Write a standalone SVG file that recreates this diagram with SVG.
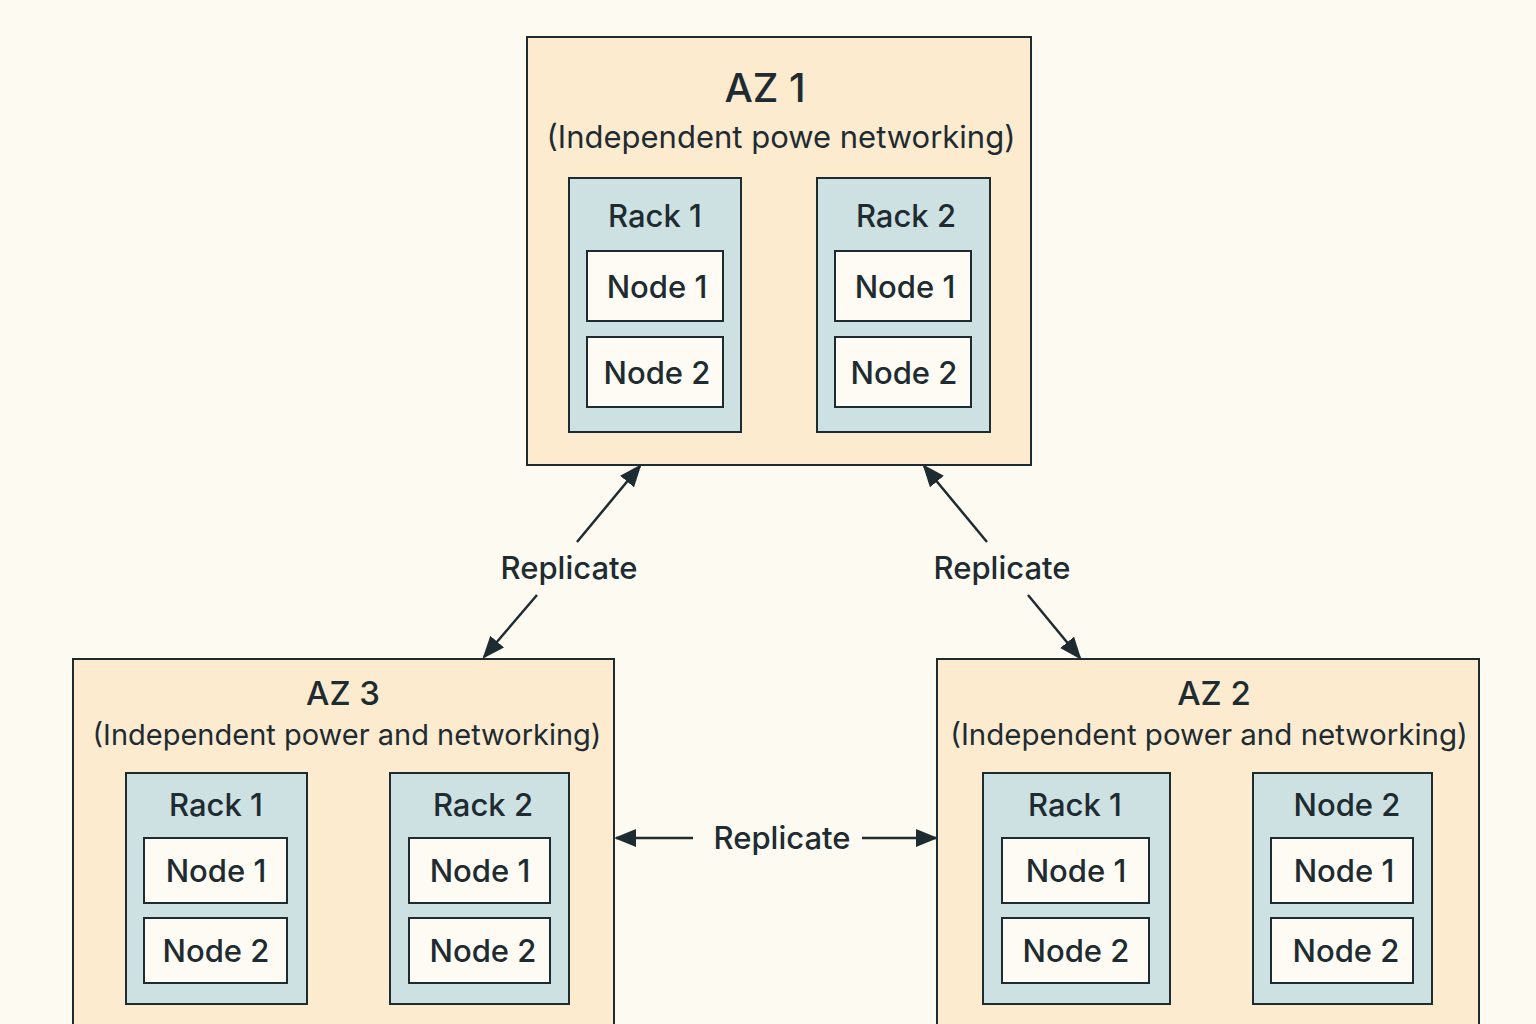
<svg xmlns="http://www.w3.org/2000/svg" width="1536" height="1024" viewBox="0 0 1536 1024">
<defs>
<marker id="ah" viewBox="0 0 10 8" refX="9" refY="4" markerWidth="9" markerHeight="7.2" markerUnits="strokeWidth" orient="auto-start-reverse">
<path d="M0,0 L10,4 L0,8 z" fill="#1e2b31"/>
</marker>
<style>
.az{fill:#fdebd0;stroke:#1e2b31;stroke-width:2}
.rack{fill:#cde0e2;stroke:#1e2b31;stroke-width:2}
.node{fill:#fdfbf3;stroke:#1e2b31;stroke-width:2}
text{font-family:Inter,"Noto Sans","DejaVu Sans",sans-serif;fill:#1e2b31;text-anchor:middle}
.t1{font-size:40px;font-weight:500}
.t2{font-size:31px}
.t3{font-size:31px;font-weight:500}
.lbl{font-size:31px;font-weight:500}
.con{stroke:#1e2b31;stroke-width:2.5;fill:none}
</style>
</defs>
<rect width="1536" height="1024" fill="#fdfaf1"/>
<g id="az1">
<rect class="az" x="527" y="37" width="504" height="428"/>
<text class="t1" x="765" y="102">AZ 1</text>
<text class="t2" x="781" y="148">(Independent powe networking)</text>
<g id="az1-rack1">
<rect class="rack" x="569" y="178" width="172" height="254"/>
<text class="t3" x="655" y="227">Rack 1</text>
<rect class="node" x="587" y="251" width="136" height="70"/>
<text class="lbl" x="657" y="298">Node 1</text>
<rect class="node" x="587" y="337" width="136" height="70"/>
<text class="lbl" x="657" y="384">Node 2</text>
</g>
<g id="az1-rack2">
<rect class="rack" x="817" y="178" width="173" height="254"/>
<text class="t3" x="906" y="227">Rack 2</text>
<rect class="node" x="835" y="251" width="136" height="70"/>
<text class="lbl" x="905" y="298">Node 1</text>
<rect class="node" x="835" y="337" width="136" height="70"/>
<text class="lbl" x="904" y="384">Node 2</text>
</g>
</g>
<g id="az3">
<rect class="az" x="73" y="659" width="541" height="380"/>
<text class="t1" x="343" y="705" style="font-size:33px">AZ 3</text>
<text class="t2" x="347" y="745" style="font-size:29px">(Independent power and networking)</text>
<g id="az3-rack1">
<rect class="rack" x="126" y="773" width="181" height="231"/>
<text class="t3" x="216" y="816">Rack 1</text>
<rect class="node" x="144" y="838" width="143" height="65"/>
<text class="lbl" x="216" y="882">Node 1</text>
<rect class="node" x="144" y="918" width="143" height="65"/>
<text class="lbl" x="216" y="962">Node 2</text>
</g>
<g id="az3-rack2">
<rect class="rack" x="390" y="773" width="179" height="231"/>
<text class="t3" x="483" y="816">Rack 2</text>
<rect class="node" x="409" y="838" width="141" height="65"/>
<text class="lbl" x="480" y="882">Node 1</text>
<rect class="node" x="409" y="918" width="141" height="65"/>
<text class="lbl" x="483" y="962">Node 2</text>
</g>
</g>
<g id="az2">
<rect class="az" x="937" y="659" width="542" height="380"/>
<text class="t1" x="1214" y="705" style="font-size:33px">AZ 2</text>
<text class="t2" x="1209" y="745" style="font-size:29.5px">(Independent power and networking)</text>
<g id="az2-rack1">
<rect class="rack" x="983" y="773" width="187" height="231"/>
<text class="t3" x="1075" y="816">Rack 1</text>
<rect class="node" x="1002" y="838" width="147" height="65"/>
<text class="lbl" x="1076" y="882">Node 1</text>
<rect class="node" x="1002" y="918" width="147" height="65"/>
<text class="lbl" x="1076" y="962">Node 2</text>
</g>
<g id="az2-rack2">
<rect class="rack" x="1253" y="773" width="179" height="231"/>
<text class="t3" x="1347" y="816">Node 2</text>
<rect class="node" x="1271" y="838" width="142" height="65"/>
<text class="lbl" x="1344" y="882">Node 1</text>
<rect class="node" x="1271" y="918" width="142" height="65"/>
<text class="lbl" x="1346" y="962">Node 2</text>
</g>
</g>
<g id="connectors">
<line class="con" x1="577" y1="542" x2="640" y2="466" marker-end="url(#ah)"/>
<line class="con" x1="537" y1="595" x2="484" y2="657" marker-end="url(#ah)"/>
<line class="con" x1="987" y1="542" x2="924" y2="466" marker-end="url(#ah)"/>
<line class="con" x1="1028" y1="595" x2="1080" y2="658" marker-end="url(#ah)"/>
<line class="con" x1="693" y1="838" x2="616" y2="838" marker-end="url(#ah)"/>
<line class="con" x1="862" y1="838" x2="936" y2="838" marker-end="url(#ah)"/>
<text class="lbl" x="569" y="579">Replicate</text>
<text class="lbl" x="1002" y="579">Replicate</text>
<text class="lbl" x="782" y="849">Replicate</text>
</g>
</svg>
